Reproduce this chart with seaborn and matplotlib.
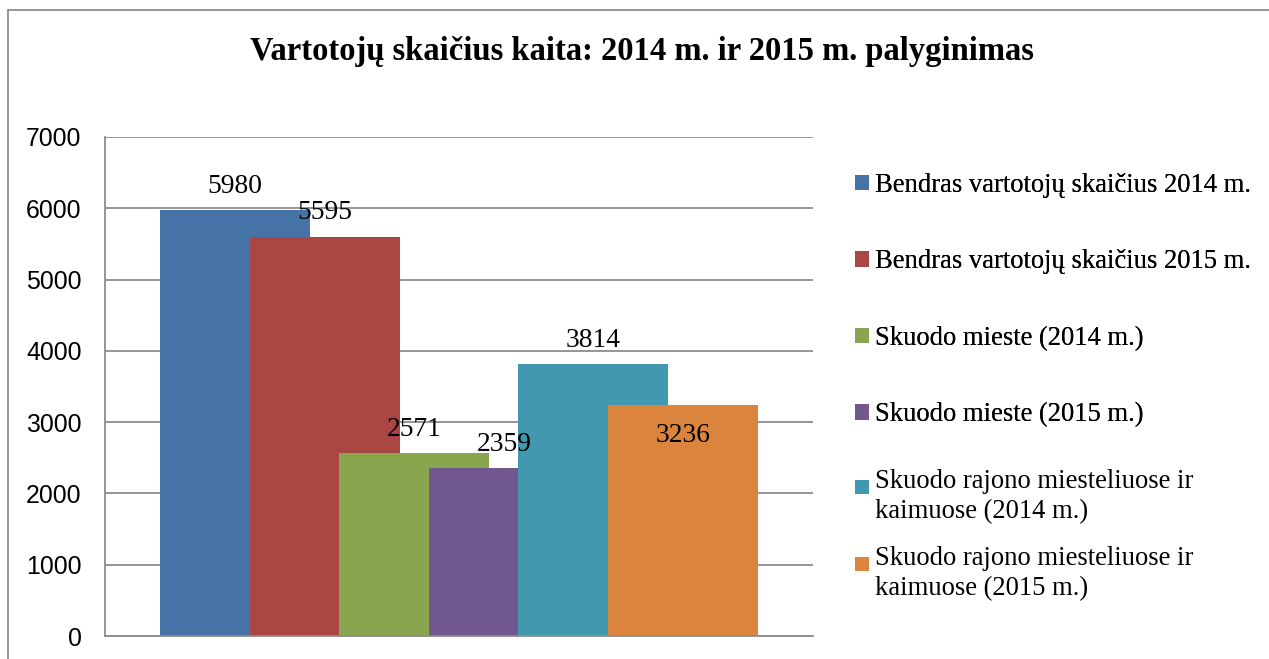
import matplotlib
matplotlib.use('Agg')
import matplotlib.pyplot as plt
import seaborn as sns
from matplotlib.lines import Line2D
from matplotlib.patches import Patch, Rectangle
from matplotlib.legend_handler import HandlerPatch

# duomenys
series = ['Bendras vartotojų skaičius 2014 m.',
          'Bendras vartotojų skaičius 2015 m.',
          'Skuodo mieste (2014 m.)',
          'Skuodo mieste (2015 m.)',
          'Skuodo rajono miesteliuose ir\nkaimuose (2014 m.)',
          'Skuodo rajono miesteliuose ir\nkaimuose (2015 m.)']
values = [5980, 5595, 2571, 2359, 3814, 3236]
colors = ['#4572A7', '#AA4643', '#89A54E', '#71588F', '#4198AF', '#DB843D']
yticks = [0, 1000, 2000, 3000, 4000, 5000, 6000, 7000]

sns.set_style('white')
plt.rcParams['font.family'] = ['Liberation Serif', 'DejaVu Serif']
plt.rcParams['text.color'] = 'black'
plt.rcParams['ytick.color'] = 'black'

fig = plt.figure(figsize=(12.69, 6.59), dpi=100)
ax = fig.add_axes([105 / 1269, 1 - 636 / 659, 708 / 1269, 499 / 659])

sns.barplot(x=series, y=values, hue=series, palette=colors, width=150 / 89.6,
            saturation=1, legend=False, linewidth=0, edgecolor='none', ax=ax)

# užrašai virš stulpelių
offsets = [12.2, 12.8, 11.8, 12, 12.6, -26.6]
for i, v in enumerate(values):
    ax.annotate(str(v), (i, v), xytext=(0, offsets[i]), textcoords='offset points',
                ha='center', va='baseline', fontsize=19.8, color='black')

ax.set_xlim(-130 / 89.6, 578 / 89.6)
ax.set_ylim(0, 7000)
ax.set_yticks(yticks)
ax.set_yticklabels([str(t) for t in yticks], family='Liberation Sans', fontsize=17.9)
ax.tick_params(axis='y', length=0, pad=17)
ax.set_xticks([])
ax.set_xlabel('')
ax.set_ylabel('')
ax.yaxis.grid(True, color='#8c8c8c', linewidth=1.3)
ax.set_axisbelow(True)
for s in ['top', 'right']:
    ax.spines[s].set_visible(False)
for s in ['left', 'bottom']:
    ax.spines[s].set_color('#8c8c8c')
    ax.spines[s].set_linewidth(1.3)

fig.text(642 / 1269, 1 - 60 / 659, 'Vartotojų skaičius kaita: 2014 m. ir 2015 m. palyginimas',
         ha='center', va='baseline', fontsize=23.5, fontweight='bold')


# kvadratėlis legendoje prie pirmos eilutės
def top_square(legend, orig_handle, xdescent, ydescent, width, height, fontsize):
    size = 14 * 72 / 100
    return Rectangle((-xdescent, -ydescent + height - size), size, size)


fs = 19.2
handles = [Patch(facecolor=c, edgecolor='none') for c in colors]
leg1 = fig.legend(handles[:4], series[:4], loc='upper left',
                  bbox_to_anchor=(855 / 1269, 1 - 173 / 659), frameon=False,
                  fontsize=fs, handlelength=0.52, handleheight=0.52,
                  handletextpad=0.22, labelspacing=1.93, borderpad=0, borderaxespad=0)
leg2 = fig.legend(handles[4:], series[4:], loc='upper left',
                  bbox_to_anchor=(855 / 1269, 1 - 469 / 659), frameon=False,
                  fontsize=fs, handlelength=0.52, handleheight=1.6,
                  handletextpad=0.22, labelspacing=0.85, borderpad=0, borderaxespad=0,
                  handler_map={Patch: HandlerPatch(patch_func=top_square)})
for t in leg2.get_texts():
    t.set_linespacing(1.25)
fig.add_artist(leg1)

# rėmelis
fig.add_artist(Line2D([8 / 1269, 1], [1 - 10 / 659, 1 - 10 / 659], color='#8c8c8c', linewidth=1.3))
fig.add_artist(Line2D([8 / 1269, 8 / 1269], [0, 1 - 10 / 659], color='#8c8c8c', linewidth=1.3))

fig.savefig('out.png', dpi=100)
